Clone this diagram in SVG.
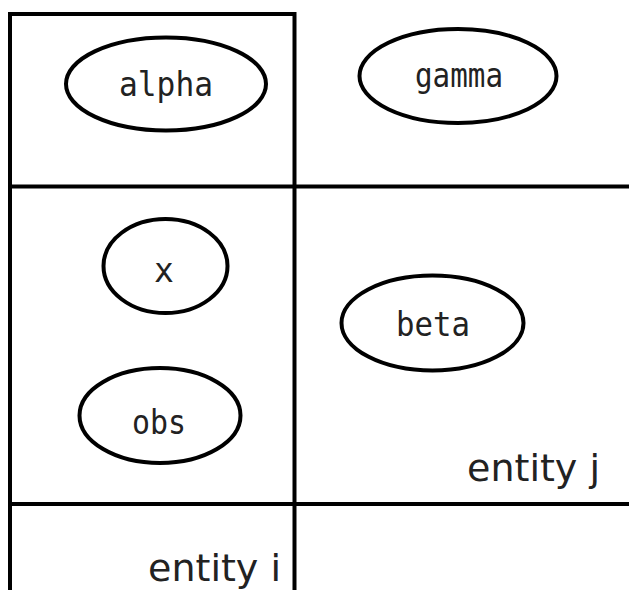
<svg xmlns="http://www.w3.org/2000/svg" width="629" height="590" viewBox="0 0 629 590">
  <style>
    .grid { stroke: #000; stroke-width: 4; fill: none; }
    .node ellipse { fill: #fff; stroke: #000; stroke-width: 4; }
    .node text { font-family: "DejaVu Sans Mono", "Liberation Mono", monospace; font-size: 33px; fill: #222; text-anchor: middle; }
    .plate { font-family: "DejaVu Sans", "Liberation Sans", sans-serif; font-size: 38px; fill: #222; text-anchor: end; }
  </style>
  <rect width="629" height="590" fill="#fff"/>

  <!-- plate boundaries -->
  <g id="plates" class="grid">
    <line x1="10" y1="14" x2="296" y2="14"/>
    <line x1="10" y1="12" x2="10" y2="590"/>
    <line x1="294.5" y1="12" x2="294.5" y2="590"/>
    <line x1="8" y1="186.5" x2="629" y2="186.5"/>
    <line x1="8" y1="504" x2="629" y2="504"/>
  </g>

  <g id="connectors"></g>

  <g id="alpha" class="node">
    <ellipse cx="166" cy="84" rx="100" ry="46.5"/>
    <text x="166" y="96" textLength="94" lengthAdjust="spacingAndGlyphs">alpha</text>
  </g>
  <g id="gamma" class="node">
    <ellipse cx="458" cy="76" rx="98.5" ry="47"/>
    <text x="459" y="87" textLength="88" lengthAdjust="spacingAndGlyphs">gamma</text>
  </g>
  <g id="x" class="node">
    <ellipse cx="165.5" cy="266" rx="62" ry="47"/>
    <text x="164" y="282">x</text>
  </g>
  <g id="obs" class="node">
    <ellipse cx="160" cy="415.5" rx="80.5" ry="47.5"/>
    <text x="159" y="434" textLength="54" lengthAdjust="spacingAndGlyphs">obs</text>
  </g>
  <g id="beta" class="node">
    <ellipse cx="432.5" cy="323" rx="91" ry="47.5"/>
    <text x="433" y="336" textLength="74" lengthAdjust="spacingAndGlyphs">beta</text>
  </g>

  <text class="plate" x="600" y="481">entity j</text>
  <text class="plate" x="281" y="581">entity i</text>
</svg>
